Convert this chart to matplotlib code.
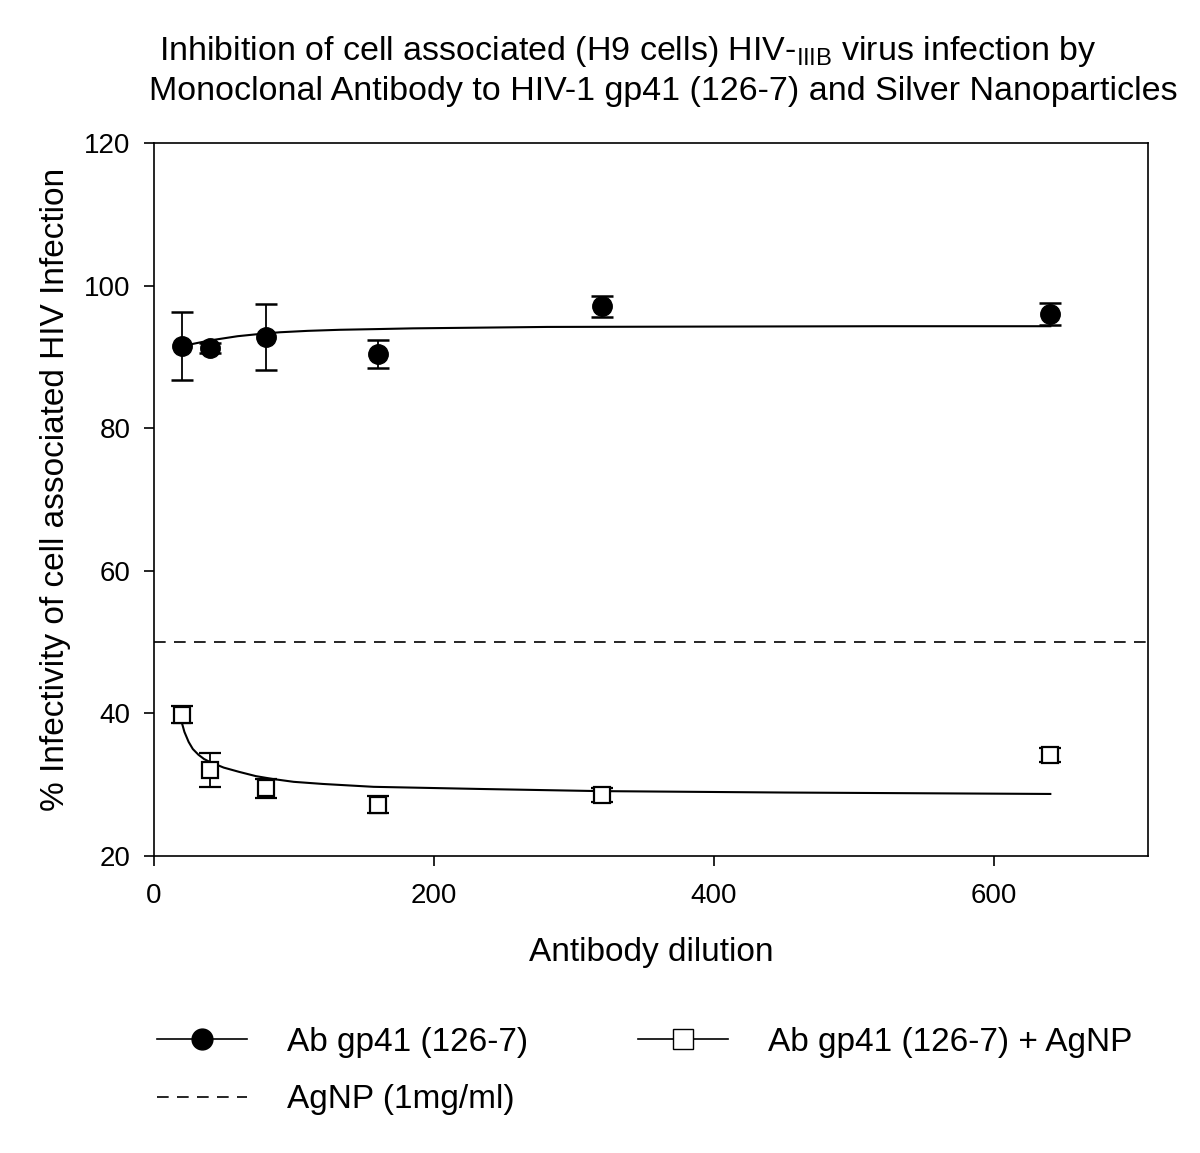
import numpy as np
import matplotlib
matplotlib.use("Agg")
import matplotlib.pyplot as plt
from matplotlib.lines import Line2D

plt.rcParams['font.family'] = ['Liberation Sans', 'DejaVu Sans']
plt.rcParams['mathtext.default'] = 'regular'

# data
dilution = [20, 40, 80, 160, 320, 640]
ab_mean = [91.5, 91.2, 92.8, 90.4, 97.1, 96.0]
ab_err = [4.8, 0.7, 4.6, 2.0, 1.5, 1.5]
ab_np_mean = [39.8, 32.1, 29.5, 27.2, 28.6, 34.2]
ab_np_err = [1.2, 2.4, 1.3, 1.2, 1.0, 1.0]
agnp_level = 50

# fitted curves as drawn in the picture
ab_fit_x = [20, 30, 40, 50, 60, 75, 90, 110, 133, 160, 185, 233, 281, 400, 520, 640]
ab_fit_y = [91.5, 91.9, 92.3, 92.6, 92.9, 93.2, 93.45, 93.65, 93.8, 93.9, 94.0, 94.1, 94.2, 94.25, 94.3, 94.3]
np_fit_x = [20, 22, 25, 28, 32, 36, 40, 50, 61, 73, 85, 100, 121, 157, 233, 318, 450, 640]
np_fit_y = [38.8, 37.4, 36.0, 35.0, 34.2, 33.6, 33.2, 32.4, 31.8, 31.2, 30.8, 30.4, 30.1, 29.7, 29.4, 29.1, 28.9, 28.7]

fig = plt.figure(figsize=(12, 11.53), dpi=100)
ax = fig.add_axes([0.128, 0.2576, 0.829, 0.6184])

ax.plot(ab_fit_x, ab_fit_y, color="black", lw=1.5)
ax.plot(np_fit_x, np_fit_y, color="black", lw=1.5)
ax.axhline(agnp_level, color="black", lw=1.2, dashes=(7, 5))

ax.errorbar(dilution, ab_mean, yerr=ab_err, fmt="o", color="black", ms=14,
            capsize=8, capthick=1.8, elinewidth=1.3, zorder=3)
ax.errorbar(dilution, ab_np_mean, yerr=ab_np_err, fmt="s", color="black", mfc="white",
            mec="black", mew=1.6, ms=11, capsize=8, capthick=1.8, elinewidth=1.3, zorder=3)

ax.set_xlim(0, 710)
ax.set_ylim(20, 120)
ax.set_xticks([0, 200, 400, 600])
ax.set_yticks([20, 40, 60, 80, 100, 120])
ax.tick_params(direction="out", length=7.5, width=1.2, labelsize=20)
ax.tick_params(axis="x", pad=12)
ax.tick_params(axis="y", pad=9)
for s in ax.spines.values():
    s.set_linewidth(1.2)

ax.set_xlabel("Antibody dilution", fontsize=24, labelpad=20)
ax.set_ylabel("% Infectivity of cell associated HIV Infection", fontsize=24)
ax.yaxis.set_label_coords(-0.083, 0.514)

fig.text(0.523, 0.955, "Inhibition of cell associated (H9 cells) HIV-$_{IIIB}$ virus infection by",
         ha="center", va="center", fontsize=24.5)
fig.text(0.553, 0.921, "Monoclonal Antibody to HIV-1 gp41 (126-7) and Silver Nanoparticles",
         ha="center", va="center", fontsize=24.5)

h1 = Line2D([], [], color="black", marker="o", ms=15, lw=1.2)
h2 = Line2D([], [], color="black", marker="s", mfc="white", ms=15, lw=1.2)
h3 = Line2D([], [], color="black", lw=1.2, dashes=(7, 5))
fig.legend([h1, h3, h2], ["Ab gp41 (126-7)", "AgNP (1mg/ml)", "Ab gp41 (126-7) + AgNP"],
           ncol=2, frameon=False, fontsize=24, loc="center", bbox_to_anchor=(0.537, 0.071),
           handlelength=2.7, handletextpad=1.2, columnspacing=3.3, labelspacing=0.8)

fig.savefig("out.png", dpi=100)
